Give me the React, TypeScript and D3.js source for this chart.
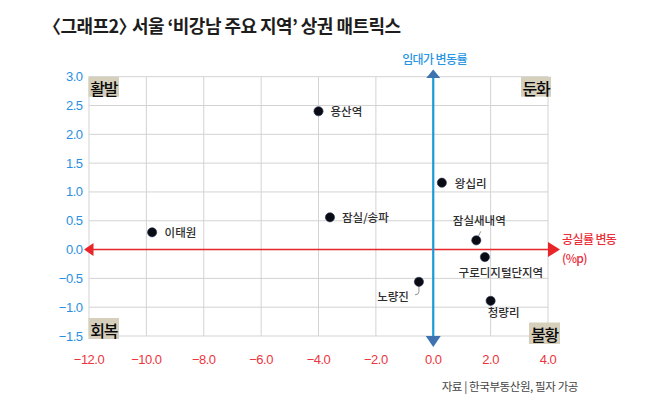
import { useEffect, useRef } from "react"
import * as d3 from "d3"

// 공실률 변동(%p) × 임대가 변동률(%)
const regions = ["용산역", "왕십리", "잠실/송파", "이태원", "잠실새내역", "구로디지털단지역", "노량진", "청량리"]
const vacancyChange = [-4.0, 0.3, -3.6, -9.8, 1.5, 1.8, -0.5, 2.0]
const rentChange = [2.4, 1.16, 0.56, 0.3, 0.16, -0.13, -0.56, -0.89]

const xTicks = [-12, -10, -8, -6, -4, -2, 0, 2, 4]
const yTicks = [3, 2.5, 2, 1.5, 1, 0.5, 0, -0.5, -1, -1.5]

const quadrantLabels = ["활발", "둔화", "회복", "불황"]

const titleParts = ["〈그래프2〉", "서울 ‘비강남 주요 지역’ 상권 매트릭스"]
const yAxisTitle = "임대가 변동률"
const xAxisTitle = ["공실률 변동", "(%p)"]
const source = "자료 | 한국부동산원, 필자 가공"

const KR = "'Noto Sans CJK KR', 'Noto Sans', sans-serif"
const NARROW = "'Liberation Sans Narrow', 'Liberation Sans', sans-serif"

const fmt = (v: number) => (v < 0 ? "−" : "") + Math.abs(v).toFixed(1)

export default function App() {
  const svgRef = useRef<SVGSVGElement>(null)

  useEffect(() => {
    if (!svgRef.current) return
    document.body.style.margin = "0"

    const svg = d3.select(svgRef.current)
    svg.selectAll("*").remove()

    const x = d3.scaleLinear().domain([-12, 4]).range([89, 548])
    const y = d3.scaleLinear().domain([-1.5, 3]).range([336, 76.7])

    const x0 = x(0)
    const y0 = y(0)

    // * Background
    svg.append("rect").attr("width", 650).attr("height", 404).attr("fill", "#fff")

    // * Title
    const t = svg
      .append("text")
      .attr("x", 43)
      .attr("y", 33)
      .attr("font-family", KR)
      .attr("font-size", "18px")
      .attr("font-weight", "700")
      .attr("letter-spacing", "-0.55")
      .attr("fill", "#1d1d1d")
    t.append("tspan").text(titleParts[0])
    t.append("tspan").attr("dx", -4).text(titleParts[1])

    // * Grid
    const grid = svg.append("g").attr("stroke", "#d3d3d3").attr("stroke-width", 1)
    xTicks.forEach((v) => {
      grid.append("line").attr("x1", x(v)).attr("x2", x(v)).attr("y1", y(3)).attr("y2", y(-1.5))
    })
    yTicks.forEach((v) => {
      grid.append("line").attr("x1", x(-12)).attr("x2", x(4)).attr("y1", y(v)).attr("y2", y(v))
    })

    // * Y tick labels (blue)
    yTicks.forEach((v) => {
      svg
        .append("text")
        .attr("x", 82.5)
        .attr("y", y(v))
        .attr("text-anchor", "end")
        .attr("dominant-baseline", "central")
        .attr("font-family", NARROW)
        .attr("font-size", "13px")
        .attr("letter-spacing", "-0.5")
        .attr("fill", "#2a8fe0")
        .text(fmt(v))
    })

    // * X tick labels (red)
    xTicks.forEach((v) => {
      svg
        .append("text")
        .attr("x", x(v))
        .attr("y", 359)
        .attr("text-anchor", "middle")
        .attr("dominant-baseline", "central")
        .attr("font-family", NARROW)
        .attr("font-size", "13px")
        .attr("letter-spacing", "-0.5")
        .attr("fill", "#ec3540")
        .text(fmt(v))
    })

    // * Horizontal (red) axis with arrowheads
    svg
      .append("line")
      .attr("x1", 92)
      .attr("x2", x(4))
      .attr("y1", y0)
      .attr("y2", y0)
      .attr("stroke", "#e8262a")
      .attr("stroke-width", 1.5)
    svg
      .append("path")
      .attr("d", `M84,${y0} L93.5,${y0 - 6.5} L93.5,${y0 + 6.5} Z`)
      .attr("fill", "#e8262a")
    svg
      .append("path")
      .attr("d", `M${x(4)},${y0 - 7.5} L560,${y0} L${x(4)},${y0 + 7.5} Z`)
      .attr("fill", "#e8262a")

    // * Vertical (blue) axis with arrowheads
    svg
      .append("line")
      .attr("x1", x0)
      .attr("x2", x0)
      .attr("y1", 75)
      .attr("y2", 338)
      .attr("stroke", "#1b9ad8")
      .attr("stroke-width", 2.2)
    svg
      .append("path")
      .attr("d", `M${x0},69.5 L${x0 + 7},78 L${x0 - 7},78 Z`)
      .attr("fill", "#3f73b0")
    svg
      .append("path")
      .attr("d", `M${x0 - 7.5},336 L${x0 + 7.5},336 L${x0},347 Z`)
      .attr("fill", "#3f73b0")

    // * Axis titles
    svg
      .append("text")
      .attr("x", 434.5)
      .attr("y", 58)
      .attr("text-anchor", "middle")
      .attr("dominant-baseline", "central")
      .attr("font-family", KR)
      .attr("font-size", "12px")
      .attr("font-weight", "500")
      .attr("letter-spacing", "-0.6")
      .attr("fill", "#2a95e0")
      .text(yAxisTitle)

    xAxisTitle.forEach((s, i) => {
      svg
        .append("text")
        .attr("x", 562)
        .attr("y", 238 + i * 19)
        .attr("dominant-baseline", "central")
        .attr("font-family", KR)
        .attr("font-size", "12px")
        .attr("font-weight", "500")
        .attr("letter-spacing", "-0.6")
        .attr("fill", "#ea2e3a")
        .text(s)
    })

    // * Quadrant labels
    const quadBoxes = [
      { x: x(-12) - 0.5, y: y(3), w: 30.5, h: 20 },
      { x: x(4) - 27, y: y(3), w: 30, h: 20 },
      { x: x(-12) - 0.5, y: y(-1.5) - 18, w: 30.5, h: 21 },
      { x: x(4) - 19, y: y(-1.5) - 13.5, w: 31, h: 21.5 },
    ]
    quadrantLabels.forEach((label, i) => {
      const b = quadBoxes[i]
      svg
        .append("rect")
        .attr("x", b.x)
        .attr("y", b.y)
        .attr("width", b.w)
        .attr("height", b.h)
        .attr("fill", "#d5cfbc")
      svg
        .append("text")
        .attr("x", b.x + b.w / 2)
        .attr("y", b.y + b.h / 2 + 1)
        .attr("text-anchor", "middle")
        .attr("dominant-baseline", "central")
        .attr("font-family", KR)
        .attr("font-size", "16px")
        .attr("font-weight", "500")
        .attr("letter-spacing", "-1.2")
        .attr("fill", "#0a0a0a")
        .text(label)
    })

    // * Leader lines
    const lead = svg.append("g").attr("fill", "none").attr("stroke", "#8a8a8a").attr("stroke-width", 0.9)
    const iJs = regions.indexOf("잠실새내역")
    lead
      .append("line")
      .attr("x1", x(vacancyChange[iJs]) + 1.5)
      .attr("y1", y(rentChange[iJs]) - 3)
      .attr("x2", x(vacancyChange[iJs]) + 4.5)
      .attr("y2", y(rentChange[iJs]) - 9)
    const iNr = regions.indexOf("노량진")
    const nx = x(vacancyChange[iNr])
    const ny = y(rentChange[iNr])
    lead.append("path").attr("d", `M${nx},${ny + 4} L${nx},${ny + 10} Q${nx},${ny + 13} ${nx - 4},${ny + 13}`)

    // * Points
    regions.forEach((_, i) => {
      svg
        .append("circle")
        .attr("cx", x(vacancyChange[i]))
        .attr("cy", y(rentChange[i]))
        .attr("r", 4.6)
        .attr("fill", "#0b0b14")
        .attr("stroke", "#23365a")
        .attr("stroke-width", 0.6)
    })

    // * Point labels
    const place: Record<string, { dx: number; dy: number; anchor: string }> = {
      용산역: { dx: 12, dy: 0, anchor: "start" },
      왕십리: { dx: 13, dy: 0, anchor: "start" },
      "잠실/송파": { dx: 12, dy: 0, anchor: "start" },
      이태원: { dx: 12.5, dy: 0, anchor: "start" },
      잠실새내역: { dx: 3, dy: -20, anchor: "middle" },
      구로디지털단지역: { dx: 16, dy: 14.5, anchor: "middle" },
      노량진: { dx: -10, dy: 14, anchor: "end" },
      청량리: { dx: 13, dy: 11.5, anchor: "middle" },
    }
    regions.forEach((name, i) => {
      const p = place[name]
      svg
        .append("text")
        .attr("x", x(vacancyChange[i]) + p.dx)
        .attr("y", y(rentChange[i]) + p.dy)
        .attr("text-anchor", p.anchor)
        .attr("dominant-baseline", "central")
        .attr("font-family", KR)
        .attr("font-size", "11.5px")
        .attr("font-weight", "500")
        .attr("fill", "#2e2e2e")
        .text(name)
    })

    // * Source
    svg
      .append("text")
      .attr("x", 578)
      .attr("y", 386)
      .attr("text-anchor", "end")
      .attr("dominant-baseline", "central")
      .attr("font-family", KR)
      .attr("font-size", "11.5px")
      .attr("letter-spacing", "-0.4")
      .attr("fill", "#444")
      .text(source)
  }, [])

  return <svg ref={svgRef} width={650} height={404} style={{ display: "block" }}></svg>
}
